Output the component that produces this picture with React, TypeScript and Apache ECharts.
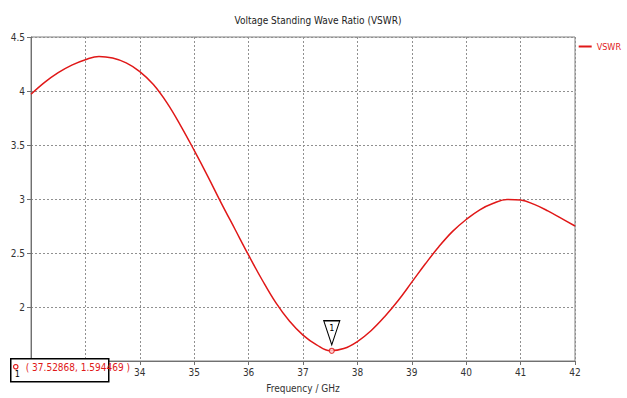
import React, { useEffect, useRef } from "react";
import * as echarts from "echarts";

const freq = [
  32.0, 32.25, 32.5, 32.75, 33.0, 33.25, 33.5, 33.75, 34.0, 34.25, 34.5, 34.75,
  35.0, 35.25, 35.5, 35.75, 36.0, 36.25, 36.5, 36.75, 37.0, 37.25, 37.5, 37.75,
  38.0, 38.25, 38.5, 38.75, 39.0, 39.25, 39.5, 39.75, 40.0, 40.25, 40.5, 40.75,
  41.0, 41.25, 41.5, 41.75, 42.0,
];
const vswr = [
  3.97, 4.08, 4.17, 4.24, 4.29, 4.32, 4.305, 4.26, 4.18, 4.06, 3.89, 3.68,
  3.45, 3.21, 2.96, 2.72, 2.48, 2.25, 2.04, 1.87, 1.74, 1.65, 1.595, 1.615,
  1.68, 1.78, 1.91, 2.06, 2.23, 2.4, 2.56, 2.7, 2.81, 2.9, 2.96, 2.995,
  2.99, 2.95, 2.89, 2.82, 2.75,
];
const markerX = 37.52868;
const markerY = 1.594469;
const xTickLabels = [34, 35, 36, 37, 38, 39, 40, 41, 42];
const yTickLabels = [2, 2.5, 3, 3.5, 4, 4.5];

const FONT = "'DejaVu Sans Condensed', 'Liberation Sans Narrow', sans-serif";

export default function App() {
  const ref = useRef<HTMLDivElement>(null);
  useEffect(() => {
    const chart = echarts.init(ref.current!, null, { renderer: "svg" });
    chart.setOption({
      animation: false,
      backgroundColor: "#ffffff",
      title: {
        text: "Voltage Standing Wave Ratio (VSWR)",
        left: 313,
        top: 10,
        textAlign: "center",
        textStyle: { fontFamily: FONT, fontSize: 10, fontWeight: "normal", color: "#222" },
      },
      legend: {
        right: 6,
        top: 42,
        padding: 0,
        itemWidth: 13,
        itemHeight: 2,
        itemGap: 2,
        icon: "rect",
        textStyle: { fontFamily: FONT, fontSize: 9, color: "#e02020" },
        data: ["VSWR"],
      },
      grid: { left: 31, right: 52, top: 37, bottom: 36, show: true, borderColor: "#808080", borderWidth: 1 },
      xAxis: {
        type: "value",
        min: 32,
        max: 42,
        interval: 1,
        name: "Frequency / GHz",
        nameLocation: "middle",
        nameGap: 22,
        nameTextStyle: { fontFamily: FONT, fontSize: 10, color: "#333" },
        axisLine: { lineStyle: { color: "#707070" } },
        axisTick: { show: true, length: 4, lineStyle: { color: "#707070" } },
        axisLabel: {
          fontFamily: FONT, fontSize: 10, color: "#333", margin: 6,
          formatter: (v: number) => (xTickLabels.includes(v) ? String(v) : ""),
        },
        splitLine: { show: true, lineStyle: { color: "#909090", type: [2, 2], width: 1 } },
      },
      yAxis: {
        type: "value",
        min: 1.5,
        max: 4.5,
        interval: 0.5,
        axisLine: { show: true, lineStyle: { color: "#707070" } },
        axisTick: { show: true, length: 4, lineStyle: { color: "#707070" } },
        axisLabel: {
          fontFamily: FONT, fontSize: 10, color: "#333", margin: 6,
          formatter: (v: number) => (yTickLabels.includes(v) ? String(v) : ""),
        },
        splitLine: { show: true, lineStyle: { color: "#909090", type: [2, 2], width: 1 } },
      },
      series: [
        {
          name: "VSWR",
          type: "line",
          smooth: 0.4,
          showSymbol: false,
          lineStyle: { color: "#e01818", width: 1.5 },
          itemStyle: { color: "#e01818" },
          data: freq.map((f, i) => [f, vswr[i]]),
          markPoint: {
            silent: true,
            data: [
              {
                coord: [markerX, markerY],
                symbol: "path://M0,0 L18,0 L9,26 Z",
                symbolSize: [16, 24],
                symbolOffset: [0, -18],
                itemStyle: { color: "#ffffff", borderColor: "#000", borderWidth: 1.2 },
                label: { show: true, formatter: "1", position: "inside", offset: [0, -5], color: "#000", fontSize: 9, fontFamily: FONT },
              },
            ],
          },
        },
        {
          name: "marker",
          type: "scatter",
          symbol: "circle",
          symbolSize: 5,
          itemStyle: { color: "#ffdddd", borderColor: "#e01818", borderWidth: 1.2 },
          data: [[markerX, markerY]],
          z: 5,
        },
      ],
      graphic: [
        {
          type: "group",
          left: 10,
          top: 358,
          z: 100,
          children: [
            { type: "rect", z: 100, shape: { x: 0, y: 0, width: 98, height: 23 }, style: { fill: "#ffffff", stroke: "#000", lineWidth: 1.5 } },
            { type: "circle", z: 101, shape: { cx: 5, cy: 8, r: 2.2 }, style: { fill: "none", stroke: "#e01818", lineWidth: 1.2 } },
            { type: "text", z: 101, x: 4, y: 11, style: { text: "1", fill: "#000", font: `9px ${FONT}` } },
            { type: "text", z: 101, x: 15, y: 4, style: { text: "( 37.52868, 1.594469 )", fill: "#e01818", font: `10px ${FONT}` } },
          ],
        },
      ],
    });
    return () => chart.dispose();
  }, []);
  return <div ref={ref} style={{ width: 627, height: 398, position: "absolute", left: 0, top: 0 }} />;
}
